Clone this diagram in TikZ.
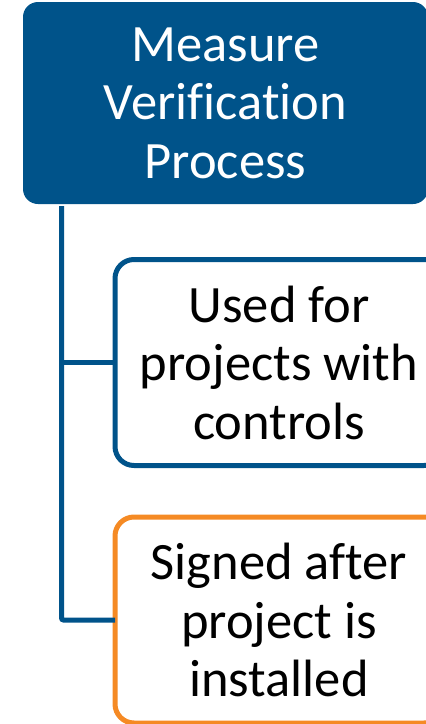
\documentclass[tikz,border=0pt]{standalone}
\usepackage{fontspec}
\setmainfont{Carlito}[Ligatures=NoCommon]
\definecolor{mvblue}{RGB}{0,83,138}
\definecolor{mvorange}{RGB}{245,138,36}
\begin{document}
\begin{tikzpicture}[x=1pt,y=-1pt,
  boxtext/.style={font=\fontsize{52.5}{58.5}\selectfont, align=center, inner sep=0pt, outer sep=0pt},
  topbox/.style={boxtext, fill=mvblue, draw=none, text=white, rounded corners=15pt, minimum width=405pt, minimum height=202pt},
  subbox/.style={boxtext, draw, fill=white, line width=5pt, rounded corners=19pt, text=black, minimum width=328pt, minimum height=206pt},
  trunk/.style={draw=mvblue, line width=5pt, rounded corners=2pt}]
\useasboundingbox (0,0) rectangle (426,724);
\node[topbox] (top) at (225.5,103) {Measure\\Verification\\Process};
\node[subbox, draw=mvblue] (b2) at (279,362.5) {Used for\\projects with\\controls};
\node[subbox, draw=mvorange] (b3) at (279,620) {Signed after\\project is\\installed};
\coordinate (t0) at (61.5,206);
\draw[trunk] (t0) |- (b3.west);
\draw[trunk] (t0 |- b2.west) -- (b2.west);
\end{tikzpicture}
\end{document}
